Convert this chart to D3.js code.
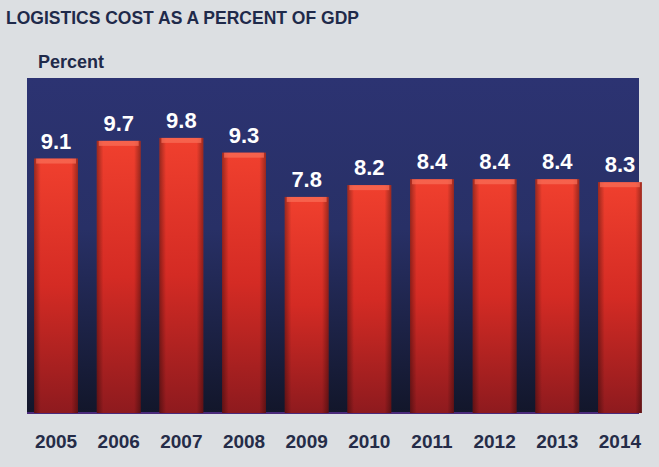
<!DOCTYPE html>
<html lang="en">
<head>
<meta charset="UTF-8">
<title>Logistics cost</title>
<style>
  body { margin: 0; background: #dcdfe2; }
  text { font-family: "Liberation Sans", Arial, sans-serif; font-weight: bold; }
</style>
</head>
<body>
<svg id="chart" width="659" height="467"></svg>
<script src="https://cdn.jsdelivr.net/npm/d3@7"></script>
<script>
var years = ['2005', '2006', '2007', '2008', '2009', '2010', '2011', '2012', '2013', '2014'];
var values = [9.1, 9.7, 9.8, 9.3, 7.8, 8.2, 8.4, 8.4, 8.4, 8.3];

var svg = d3.select('#chart');
var plotLeft = 27, plotRight = 639, plotTop = 78, plotBottom = 414;

var defs = svg.append('defs');
var bg = defs.append('linearGradient').attr('id', 'bg').attr('x1', 0).attr('y1', 0).attr('x2', 0).attr('y2', 1);
bg.append('stop').attr('offset', '0%').attr('stop-color', '#2c3372');
bg.append('stop').attr('offset', '45%').attr('stop-color', '#283066');
bg.append('stop').attr('offset', '100%').attr('stop-color', '#12162a');
var bar = defs.append('linearGradient').attr('id', 'bar').attr('x1', 0).attr('y1', 0).attr('x2', 0).attr('y2', 1);
bar.append('stop').attr('offset', '0%').attr('stop-color', '#f0402e');
bar.append('stop').attr('offset', '50%').attr('stop-color', '#d42b24');
bar.append('stop').attr('offset', '100%').attr('stop-color', '#8e1a1e');
var side = defs.append('linearGradient').attr('id', 'side').attr('x1', 0).attr('y1', 0).attr('x2', 1).attr('y2', 0);
side.append('stop').attr('offset', '0%').attr('stop-color', '#000').attr('stop-opacity', 0.35);
side.append('stop').attr('offset', '15%').attr('stop-color', '#000').attr('stop-opacity', 0);
side.append('stop').attr('offset', '85%').attr('stop-color', '#000').attr('stop-opacity', 0);
side.append('stop').attr('offset', '100%').attr('stop-color', '#000').attr('stop-opacity', 0.35);

svg.append('text').attr('x', 6).attr('y', 24).attr('fill', '#1f2a4a')
  .style('font-size', '17.5px').text('LOGISTICS COST AS A PERCENT OF GDP');
svg.append('text').attr('x', 38).attr('y', 68).attr('fill', '#1f2a4a')
  .style('font-size', '18px').text('Percent');

svg.append('rect').attr('x', plotLeft).attr('y', plotTop)
  .attr('width', plotRight - plotLeft).attr('height', plotBottom - plotTop)
  .attr('fill', 'url(#bg)');
svg.append('line').attr('x1', plotLeft).attr('x2', plotRight)
  .attr('y1', plotBottom - 1).attr('y2', plotBottom - 1)
  .attr('stroke', '#4a2a7a').attr('stroke-width', 2);

var x = d3.scaleBand().domain(years).range([plotLeft + 4, plotRight + 6]).paddingInner(0.3).paddingOuter(0.05);
var y = d3.scaleLinear().domain([0.48, 11.83]).range([plotBottom - 1, plotTop]);

var g = svg.selectAll('g.bar').data(values).enter().append('g').attr('class', 'bar');
g.append('rect')
  .attr('x', (d, i) => x(years[i]))
  .attr('y', d => y(d))
  .attr('width', x.bandwidth())
  .attr('height', d => y(0.48) - y(d))
  .attr('fill', 'url(#bar)');
g.append('rect')
  .attr('x', (d, i) => x(years[i]))
  .attr('y', d => y(d))
  .attr('width', x.bandwidth())
  .attr('height', d => y(0.48) - y(d))
  .attr('fill', 'url(#side)');
g.append('rect')
  .attr('x', (d, i) => x(years[i]) + 2)
  .attr('y', d => y(d))
  .attr('width', x.bandwidth() - 4)
  .attr('height', 5)
  .attr('fill', '#f9705a').attr('opacity', 0.7);
g.append('text')
  .attr('x', (d, i) => x(years[i]) + x.bandwidth() / 2)
  .attr('y', d => y(d) - 10)
  .attr('text-anchor', 'middle')
  .attr('fill', '#fff')
  .style('font-size', '22px')
  .text(d => d.toFixed(1));

svg.selectAll('text.year').data(years).enter().append('text').attr('class', 'year')
  .attr('x', d => x(d) + x.bandwidth() / 2)
  .attr('y', 448)
  .attr('text-anchor', 'middle')
  .attr('fill', '#252c48')
  .style('font-size', '19px')
  .text(d => d);
</script>
</body>
</html>
